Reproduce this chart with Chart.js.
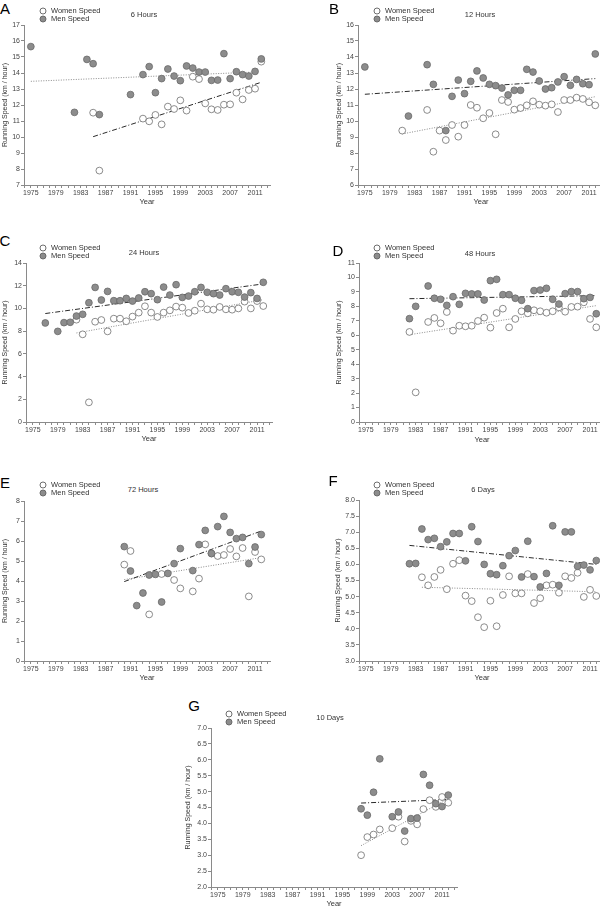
<!DOCTYPE html>
<html>
<head>
<meta charset="utf-8">
<script src="https://cdn.jsdelivr.net/npm/chart.js@4.4.1/dist/chart.umd.min.js"></script>
<style>
  html, body { margin: 0; padding: 0; background: #fff; width: 600px; height: 908px; overflow: hidden; position: relative; font-family: "Liberation Sans", Arial, sans-serif; }
  canvas { position: absolute; }
  .txt { position: absolute; white-space: nowrap; color: #333; line-height: 1; }
  .letter { font-size: 15px; color: #000; transform: translate(-50%, -50%); }
  .title { font-size: 7.5px; transform: translate(-50%, -50%); }
  .leg { font-size: 7.5px; transform: translateY(-50%); }
  .dot { position: absolute; width: 7px; height: 7px; border-radius: 50%; box-sizing: border-box; transform: translate(-50%, -50%); }
</style>
</head>
<body>
<script>
// x axis tick labels (every 4 years), minor ticks every year
const yearLabels = [1975, 1979, 1983, 1987, 1991, 1995, 1999, 2003, 2007, 2011];

// A - 6 Hours
const womenYearsA = [1985, 1986, 1993, 1994, 1995, 1996, 1997, 1998, 1999, 2000, 2001, 2002, 2003, 2004, 2005, 2006, 2007, 2008, 2009, 2010, 2011, 2012];
const womenSpeedA = [11.52, 7.9, 11.15, 10.98, 11.38, 10.79, 11.9, 11.75, 12.29, 11.65, 13.77, 13.62, 12.1, 11.73, 11.69, 12.02, 12.04, 12.77, 12.35, 12.94, 13.02, 14.71];
const menYearsA = [1975, 1982, 1984, 1985, 1986, 1991, 1993, 1994, 1995, 1996, 1997, 1998, 1999, 2000, 2001, 2002, 2003, 2004, 2005, 2006, 2007, 2008, 2009, 2010, 2011, 2012];
const menSpeedA = [15.65, 11.54, 14.85, 14.58, 11.4, 12.65, 13.9, 14.4, 12.77, 13.65, 14.25, 13.81, 13.52, 14.44, 14.31, 14.06, 14.06, 13.54, 13.56, 15.21, 13.65, 14.08, 13.9, 13.81, 14.1, 14.88];
const womenTrendA = [[1985, 10.02], [2012, 13.42]];
const menTrendA = [[1975, 13.48], [2011, 14.06]];

// B - 12 Hours
const womenYearsB = [1981, 1985, 1986, 1987, 1988, 1989, 1990, 1991, 1992, 1993, 1994, 1995, 1996, 1997, 1998, 1999, 2000, 2001, 2002, 2003, 2004, 2005, 2006, 2007, 2008, 2009, 2010, 2011, 2012];
const womenSpeedB = [9.4, 10.69, 8.08, 9.4, 8.81, 9.75, 9.02, 9.75, 11.0, 10.83, 10.17, 10.5, 9.17, 11.31, 11.19, 10.71, 10.81, 10.98, 11.23, 11.02, 10.96, 11.04, 10.56, 11.31, 11.31, 11.46, 11.38, 11.17, 10.98];
const menYearsB = [1975, 1982, 1985, 1986, 1988, 1989, 1990, 1991, 1992, 1993, 1994, 1995, 1996, 1997, 1998, 1999, 2000, 2001, 2002, 2003, 2004, 2005, 2006, 2007, 2008, 2009, 2010, 2011, 2012];
const menSpeedB = [13.38, 10.31, 13.52, 12.29, 9.4, 11.54, 12.56, 11.71, 12.48, 13.13, 12.69, 12.29, 12.21, 12.06, 11.63, 11.92, 11.92, 13.23, 13.06, 12.5, 12.0, 12.08, 12.44, 12.77, 12.23, 12.6, 12.33, 12.27, 14.19];
const womenTrendB = [[1981, 9.19], [2012, 11.52]];
const menTrendB = [[1975, 11.67], [2012, 12.65]];

// C - 24 Hours
const womenYearsC = [1982, 1983, 1984, 1985, 1986, 1987, 1988, 1989, 1990, 1991, 1992, 1993, 1994, 1995, 1996, 1997, 1998, 1999, 2000, 2001, 2002, 2003, 2004, 2005, 2006, 2007, 2008, 2009, 2010, 2011, 2012];
const womenSpeedC = [9.01, 7.72, 1.73, 8.83, 8.98, 7.98, 9.1, 9.1, 8.87, 9.28, 9.63, 10.19, 9.63, 9.25, 9.63, 9.83, 10.16, 10.07, 9.6, 9.8, 10.42, 9.92, 9.89, 10.13, 9.92, 9.89, 10.0, 10.6, 10.0, 10.65, 10.21];
const menYearsC = [1977, 1979, 1980, 1981, 1982, 1983, 1984, 1985, 1986, 1987, 1988, 1989, 1990, 1991, 1992, 1993, 1994, 1995, 1996, 1997, 1998, 1999, 2000, 2001, 2002, 2003, 2004, 2005, 2006, 2007, 2008, 2009, 2010, 2011, 2012];
const menSpeedC = [8.72, 7.98, 8.75, 8.78, 9.33, 9.48, 10.5, 11.85, 10.74, 11.5, 10.68, 10.68, 10.88, 10.65, 10.92, 11.47, 11.3, 10.77, 11.88, 11.18, 12.09, 10.97, 11.09, 11.47, 11.85, 11.42, 11.3, 11.18, 11.74, 11.47, 11.42, 11.0, 11.39, 10.88, 12.3];
const womenTrendC = [[1982, 7.84], [2012, 10.77]];
const menTrendC = [[1977, 9.55], [2012, 12.16]];

// D - 48 Hours
const womenYearsD = [1982, 1983, 1985, 1986, 1987, 1988, 1989, 1990, 1991, 1992, 1993, 1994, 1995, 1996, 1997, 1998, 1999, 2000, 2001, 2002, 2003, 2004, 2005, 2006, 2007, 2008, 2009, 2010, 2011, 2012];
const womenSpeedD = [6.23, 2.05, 6.92, 7.2, 6.83, 7.61, 6.32, 6.66, 6.62, 6.66, 6.99, 7.22, 6.53, 7.54, 7.84, 6.55, 7.13, 7.66, 7.52, 7.73, 7.66, 7.56, 7.66, 7.93, 7.63, 7.96, 7.98, 8.28, 7.13, 6.55];
const menYearsD = [1982, 1983, 1985, 1986, 1987, 1988, 1989, 1990, 1991, 1992, 1993, 1994, 1995, 1996, 1997, 1998, 1999, 2000, 2001, 2002, 2003, 2004, 2005, 2006, 2007, 2008, 2009, 2010, 2011, 2012];
const menSpeedD = [7.15, 8.0, 9.41, 8.56, 8.49, 8.07, 8.67, 8.14, 8.9, 8.86, 8.86, 8.44, 9.78, 9.87, 8.81, 8.81, 8.56, 8.42, 7.84, 9.09, 9.13, 9.25, 8.49, 8.16, 8.88, 9.02, 9.02, 8.53, 8.62, 7.49];
const womenTrendD = [[1982, 6.04], [2012, 8.05]];
const menTrendD = [[1982, 8.53], [2012, 8.74]];

// E - 72 Hours
const womenYearsE = [1990, 1991, 1994, 1996, 1998, 1999, 2001, 2002, 2003, 2004, 2005, 2006, 2007, 2008, 2009, 2010, 2011, 2012];
const womenSpeedE = [4.82, 5.5, 2.33, 4.35, 4.05, 3.63, 3.48, 4.12, 5.83, 5.37, 5.25, 5.3, 5.6, 5.23, 5.65, 3.23, 5.45, 5.08];
const menYearsE = [1990, 1991, 1992, 1993, 1994, 1995, 1996, 1997, 1998, 1999, 2001, 2002, 2003, 2004, 2005, 2006, 2007, 2008, 2009, 2010, 2011, 2012];
const menSpeedE = [5.72, 4.5, 2.77, 3.4, 4.3, 4.33, 2.95, 4.38, 4.87, 5.62, 4.52, 5.82, 6.53, 5.38, 6.72, 7.23, 6.43, 6.12, 6.18, 4.87, 5.7, 6.32];
const womenTrendE = [[1990, 4.07], [2012, 5.17]];
const menTrendE = [[1990, 3.97], [2012, 6.5]];

// F - 6 Days
const womenYearsF = [1984, 1985, 1986, 1987, 1988, 1989, 1990, 1991, 1992, 1993, 1994, 1995, 1996, 1997, 1998, 1999, 2000, 2001, 2002, 2003, 2004, 2005, 2006, 2007, 2008, 2009, 2010, 2011, 2012];
const womenSpeedF = [5.6, 5.35, 5.61, 5.83, 5.23, 6.02, 6.13, 5.03, 4.86, 4.36, 4.05, 4.87, 4.08, 5.05, 5.63, 5.1, 5.1, 5.7, 4.8, 4.95, 5.35, 5.37, 5.12, 5.63, 5.58, 5.74, 4.99, 5.21, 5.02];
const menYearsF = [1982, 1983, 1984, 1985, 1986, 1987, 1988, 1989, 1990, 1991, 1992, 1993, 1994, 1995, 1996, 1997, 1998, 1999, 2000, 2001, 2002, 2003, 2004, 2005, 2006, 2007, 2008, 2009, 2010, 2011, 2012];
const menSpeedF = [6.02, 6.03, 7.1, 6.77, 6.81, 6.55, 6.7, 6.96, 6.96, 6.11, 7.17, 6.71, 6.0, 5.71, 5.68, 5.96, 6.27, 6.43, 5.61, 6.72, 5.62, 5.3, 5.72, 7.2, 5.35, 7.01, 7.01, 5.94, 5.98, 5.83, 6.12];
const womenTrendF = [[1984, 5.29], [2012, 5.15]];
const menTrendF = [[1982, 6.59], [2012, 6.0]];

// G - 10 Days
const womenYearsG = [1998, 1999, 2000, 2001, 2003, 2004, 2005, 2006, 2007, 2008, 2009, 2010, 2011, 2012];
const womenSpeedG = [3.0, 3.57, 3.65, 3.81, 3.85, 4.21, 3.43, 4.08, 3.97, 4.45, 4.73, 4.52, 4.83, 4.65];
const menYearsG = [1998, 1999, 2000, 2001, 2003, 2004, 2005, 2006, 2007, 2008, 2009, 2010, 2011, 2012];
const menSpeedG = [4.46, 4.26, 4.98, 6.03, 4.21, 4.36, 3.76, 4.15, 4.17, 5.54, 5.2, 4.62, 4.53, 4.89];
const womenTrendG = [[1998, 3.3], [2012, 4.78]];
const menTrendG = [[1998, 4.64], [2012, 4.75]];

const FONT = '"Liberation Sans", Arial, sans-serif';
Chart.defaults.font.family = FONT;
Chart.defaults.font.size = 7;
Chart.defaults.color = '#444';

const DASHDOT = { color: '#2a2a2a', dash: [5, 2, 1, 2] };
const DOTTED = { color: '#8a8a8a', dash: [1, 1.5] };

// layout of each panel (page pixels)
const panels = [
  { letter: 'A', title: '6 Hours', axisX: 24, top: 25, bottom: 185, ytitleX: 5, yearY: 202, yMin: 7, yMax: 17, step: 1, dec: 0,
    legX: 43, legY: 11, titleX: 144, titleY: 15, letX: 5, letY: 8,
    wy: womenYearsA, ws: womenSpeedA, my: menYearsA, ms: menSpeedA, wt: womenTrendA, mt: menTrendA, wStyle: DASHDOT, mStyle: DOTTED },
  { letter: 'B', title: '12 Hours', axisX: 358, top: 25, bottom: 185, ytitleX: 339, yearY: 202, yMin: 6, yMax: 16, step: 1, dec: 0,
    legX: 377, legY: 11, titleX: 480, titleY: 15, letX: 334, letY: 8,
    wy: womenYearsB, ws: womenSpeedB, my: menYearsB, ms: menSpeedB, wt: womenTrendB, mt: menTrendB, wStyle: DOTTED, mStyle: DASHDOT },
  { letter: 'C', title: '24 Hours', axisX: 26, top: 263, bottom: 422, ytitleX: 5, yearY: 439, yMin: 0, yMax: 14, step: 1, dec: 0,
    legX: 43, legY: 248, titleX: 144, titleY: 253, letX: 5, letY: 240,
    wy: womenYearsC, ws: womenSpeedC, my: menYearsC, ms: menSpeedC, wt: womenTrendC, mt: menTrendC, wStyle: DOTTED, mStyle: DASHDOT },
  { letter: 'D', title: '48 Hours', axisX: 359, top: 263, bottom: 422, ytitleX: 339, yearY: 440, yMin: 0, yMax: 11, step: 1, dec: 0,
    legX: 377, legY: 248, titleX: 480, titleY: 254, letX: 338, letY: 250,
    wy: womenYearsD, ws: womenSpeedD, my: menYearsD, ms: menSpeedD, wt: womenTrendD, mt: menTrendD, wStyle: DOTTED, mStyle: DASHDOT },
  { letter: 'E', title: '72 Hours', axisX: 24, top: 501, bottom: 661, ytitleX: 5, yearY: 678, yMin: 0, yMax: 8, step: 1, dec: 0,
    legX: 43, legY: 485, titleX: 143, titleY: 490, letX: 5, letY: 482,
    wy: womenYearsE, ws: womenSpeedE, my: menYearsE, ms: menSpeedE, wt: womenTrendE, mt: menTrendE, wStyle: DOTTED, mStyle: DASHDOT },
  { letter: 'F', title: '6 Days', axisX: 359, top: 500, bottom: 661, ytitleX: 338, yearY: 678, yMin: 3, yMax: 8, step: 0.5, dec: 1,
    legX: 377, legY: 485, titleX: 483, titleY: 490, letX: 333, letY: 480,
    wy: womenYearsF, ws: womenSpeedF, my: menYearsF, ms: menSpeedF, wt: womenTrendF, mt: menTrendF, wStyle: DOTTED, mStyle: DASHDOT },
  { letter: 'G', title: '10 Days', axisX: 211, top: 728, bottom: 887, ytitleX: 188, yearY: 904, yMin: 2, yMax: 7, step: 0.5, dec: 1,
    legX: 229, legY: 714, titleX: 330, titleY: 718, letX: 194, letY: 705,
    wy: womenYearsG, ws: womenSpeedG, my: menYearsG, ms: menSpeedG, wt: womenTrendG, mt: menTrendG, wStyle: DOTTED, mStyle: DASHDOT }
];

const X_MIN = 1973.9, X_MAX = 2013.4, PLOT_W = 246;

function addText(cls, text, x, y) {
  const d = document.createElement('div');
  d.className = 'txt ' + cls;
  d.textContent = text;
  d.style.left = x + 'px';
  d.style.top = y + 'px';
  document.body.appendChild(d);
}

function addDot(x, y, fill, border) {
  const d = document.createElement('div');
  d.className = 'dot';
  d.style.left = x + 'px';
  d.style.top = y + 'px';
  d.style.background = fill;
  d.style.border = '1px solid ' + border;
  document.body.appendChild(d);
}

function toPoints(xs, ys) {
  return xs.map((x, i) => ({ x: x, y: ys[i] }));
}

function makePanel(p) {
  const cLeft = p.ytitleX - 4;
  const cTop = p.top - 6;
  const xH = p.yearY - p.bottom + 4;
  const right = p.axisX + PLOT_W;
  const w = right - cLeft + 6;
  const h = p.bottom - cTop + xH;

  const canvas = document.createElement('canvas');
  canvas.width = w;
  canvas.height = h;
  canvas.style.left = cLeft + 'px';
  canvas.style.top = cTop + 'px';
  canvas.style.width = w + 'px';
  canvas.style.height = h + 'px';
  document.body.appendChild(canvas);

  const trend = (pts, st) => ({
    data: pts.map(t => ({ x: t[0], y: t[1] })),
    showLine: true, pointRadius: 0, borderColor: st.color, borderDash: st.dash, borderWidth: 1
  });

  new Chart(canvas.getContext('2d'), {
    type: 'scatter',
    data: {
      datasets: [
        { label: 'Men Speed', data: toPoints(p.my, p.ms), pointRadius: 3.4,
          pointBackgroundColor: '#8c8c8c', pointBorderColor: '#696969', pointBorderWidth: 0.8 },
        { label: 'Women Speed', data: toPoints(p.wy, p.ws), pointRadius: 3.4,
          pointBackgroundColor: '#ffffff', pointBorderColor: '#6e6e6e', pointBorderWidth: 0.8 },
        trend(p.mt, p.mStyle),
        trend(p.wt, p.wStyle)
      ]
    },
    options: {
      responsive: false,
      animation: false,
      devicePixelRatio: 1,
      layout: { padding: { left: 0, top: 6, right: 6, bottom: 0 } },
      plugins: { legend: { display: false }, tooltip: { enabled: false } },
      scales: {
        x: {
          type: 'linear', min: X_MIN, max: X_MAX,
          afterBuildTicks: s => {
            const t = [];
            for (let y = 1974; y <= 2013; y++) t.push({ value: y });
            s.ticks = t;
          },
          afterFit: s => { s.height = xH; },
          ticks: { autoSkip: false, maxRotation: 0, padding: 1,
            callback: v => yearLabels.includes(v) ? String(v) : '' },
          grid: { drawOnChartArea: false, tickLength: 3, color: '#8a8a8a' },
          border: { color: '#8a8a8a' },
          title: { display: true, text: 'Year', padding: 0, color: '#333', font: { size: 7.5 } }
        },
        y: {
          min: p.yMin, max: p.yMax,
          afterFit: s => { s.width = p.axisX - cLeft; },
          ticks: { stepSize: p.step, padding: 1, callback: v => Number(v).toFixed(p.dec) },
          grid: { drawOnChartArea: false, tickLength: 3, color: '#8a8a8a' },
          border: { color: '#8a8a8a' },
          title: { display: true, text: 'Running Speed (km / hour)', padding: 0, color: '#333', font: { size: 7 } }
        }
      }
    }
  });

  addText('letter', p.letter, p.letX, p.letY);
  addText('title', p.title, p.titleX, p.titleY);
  addDot(p.legX, p.legY, '#ffffff', '#6e6e6e');
  addDot(p.legX, p.legY + 8, '#8c8c8c', '#696969');
  addText('leg', 'Women Speed', p.legX + 8, p.legY);
  addText('leg', 'Men Speed', p.legX + 8, p.legY + 8);
}

panels.forEach(makePanel);
</script>
</body>
</html>
